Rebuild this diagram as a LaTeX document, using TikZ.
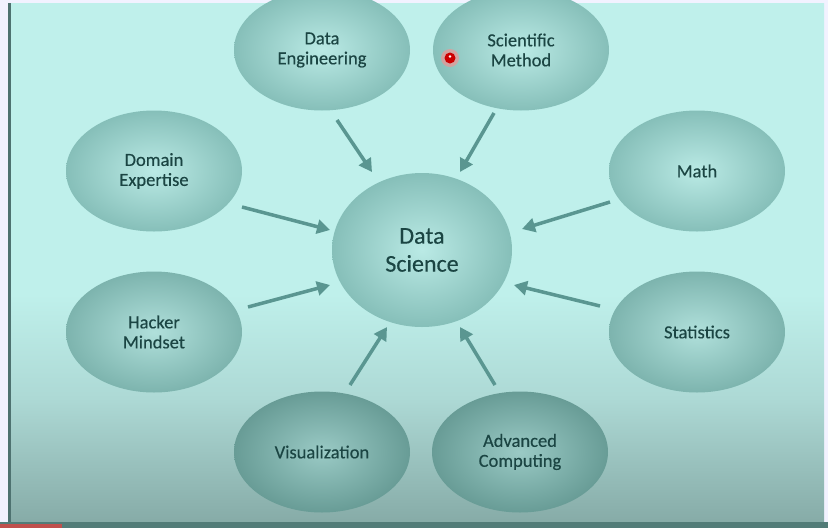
\documentclass[tikz,border=0pt]{standalone}
\usepackage{fontspec}
\setmainfont{Carlito}[FakeBold=0.35]
\usetikzlibrary{shapes.geometric,arrows.meta,calc}
\definecolor{bgtop}{HTML}{BFF0EB}
\definecolor{bgmid}{HTML}{ADD9D5}
\definecolor{bgbot}{HTML}{86ABA7}
\definecolor{txt}{HTML}{1B4543}
\definecolor{arrc}{HTML}{5A9691}
\definecolor{edgeline}{HTML}{4E7270}
\definecolor{botline}{HTML}{527C78}
\definecolor{redline}{HTML}{C0504D}
\definecolor{inA}{HTML}{BAEAE5}
\definecolor{outA}{HTML}{86BFB9}
\definecolor{inB}{HTML}{B0E0DB}
\definecolor{outB}{HTML}{7DB4AE}
\definecolor{inC}{HTML}{9ACAC5}
\definecolor{outC}{HTML}{689C96}
\pgfdeclareverticalshading{bgshade}{100bp}{color(0bp)=(bgbot); color(25bp)=(bgbot); color(37bp)=(bgmid); color(47bp)=(bgtop); color(100bp)=(bgtop)}
\begin{document}
\begin{tikzpicture}[x=1pt,y=-1pt,
  ball/.style 2 args={ellipse, minimum width=176pt, minimum height=121pt,
    inner color=#1, outer color=#2, text=txt,
    font=\fontsize{18.5}{20}\selectfont, align=center, inner sep=0pt},
  link/.style={draw=arrc, line width=3.5pt, -{Triangle[length=13pt,width=14pt]}}]
\useasboundingbox (0,0) rectangle (828,528);
\fill[white!95!blue] (0,0) rectangle (828,528);
\shade[shading=bgshade] (10,3) rectangle (824,523);
\fill[edgeline] (8,3) rectangle (10.5,523);
\fill[botline] (0,522) rectangle (828,528);
\fill[redline] (0,523.5) rectangle (62,528);

\node[ball={inA}{outA}] (de) at (322,50) {Data\\Engineering};
\node[ball={inA}{outA}] (sm) at (521,50) {Scientific\\Method};
\node[ball={inA}{outA}] (dom) at (154,171) {Domain\\Expertise};
\node[ball={inA}{outA}] (math) at (697,171) {Math};
\node[ball={inA}{outA}, minimum width=180pt, minimum height=154pt,
      font=\fontsize{24}{28}\selectfont] (ds) at (422,250) {Data\\Science};
\node[ball={inB}{outB}] (hack) at (154,332) {Hacker\\Mindset};
\node[ball={inB}{outB}] (stat) at (697,332) {Statistics};
\node[ball={inC}{outC}] (vis) at (322,452) {Visualization};
\node[ball={inC}{outC}] (ac) at (520,452) {Advanced\\Computing};

\draw[link] ($(de)+(15,70)$) -- ($(ds)+(-50,-78)$);
\draw[link] ($(sm)+(-27,63)$) -- ($(ds)+(38,-78)$);
\draw[link] ($(dom)+(88,36)$) -- ($(ds)+(-92,-20)$);
\draw[link] ($(math)+(-87,31)$) -- ($(ds)+(100,-21)$);
\draw[link] ($(hack)+(94,-25)$) -- ($(ds)+(-92,35)$);
\draw[link] ($(stat)+(-97,-26)$) -- ($(ds)+(92,35)$);
\draw[link] ($(vis)+(28,-67)$) -- ($(ds)+(-35,77)$);
\draw[link] ($(ac)+(-25,-67)$) -- ($(ds)+(38,77)$);

\fill[red!45!white, opacity=0.6] (450,58) circle (9);
\fill[red!80!black] (450,58) circle (5.5);
\fill[white] (450,56.5) circle (1.4);
\end{tikzpicture}
\end{document}
